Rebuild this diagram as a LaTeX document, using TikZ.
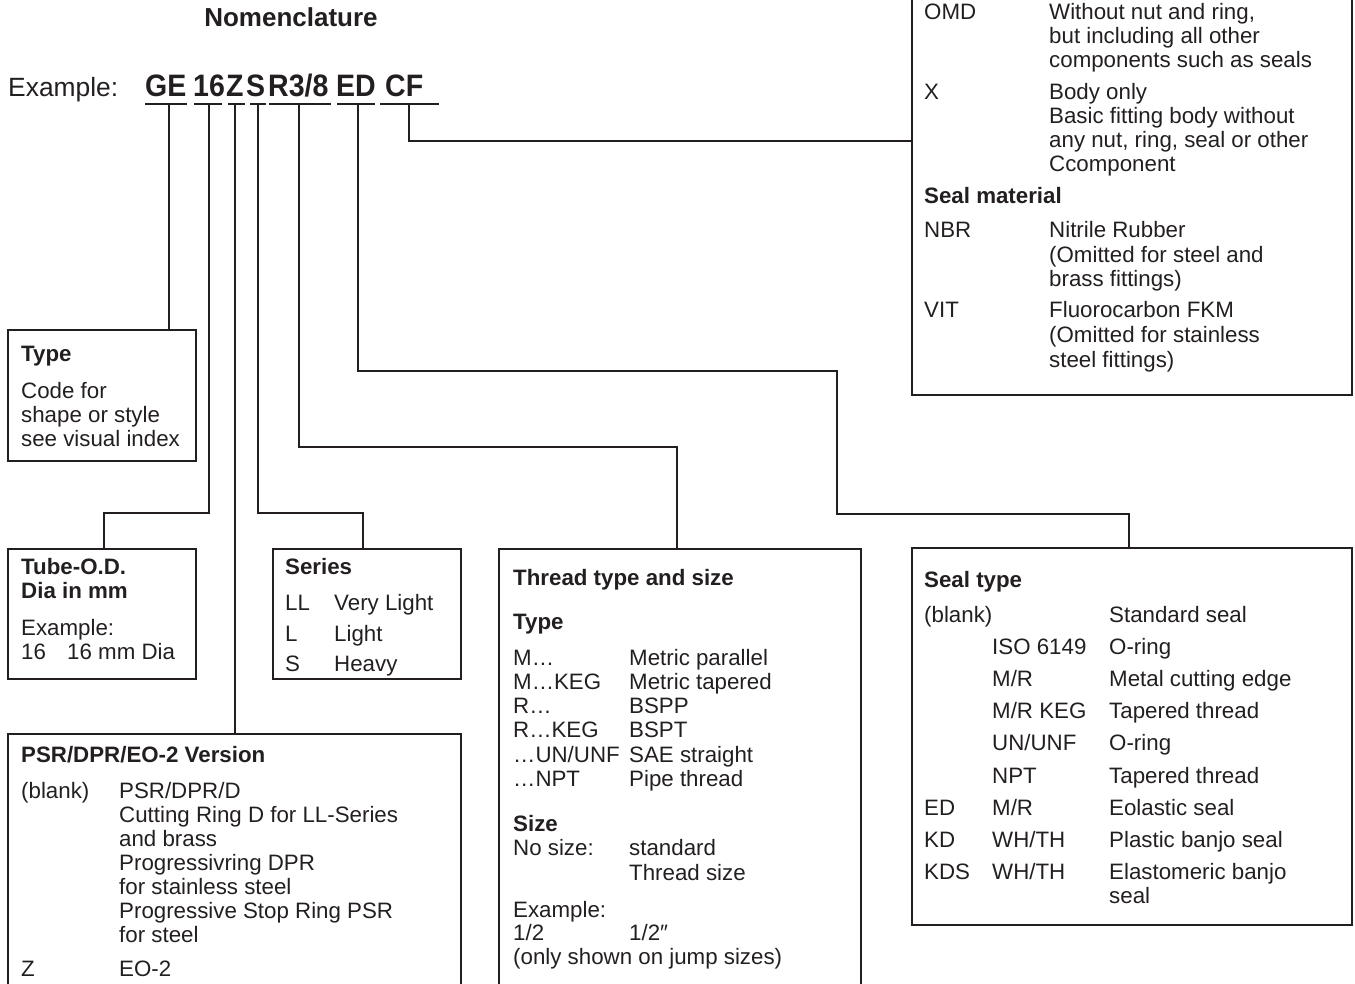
\documentclass[tikz,border=0pt]{standalone}
\usepackage{fontspec}
\setmainfont{Liberation Sans}
\newfontfamily\codefont[FakeStretch=0.92]{Liberation Sans}
\definecolor{ink}{RGB}{35,31,32}
\begin{document}
\begin{tikzpicture}[x=1pt,y=-1pt,
  box/.style={draw=ink, line width=1.3pt, anchor=north west, inner sep=0pt, outer sep=0pt},
  wire/.style={draw=ink, line width=1.2pt},
  txt/.style={anchor=base west, inner sep=0pt, text=ink, font=\fontsize{22.3}{24.3}\selectfont},
  hd/.style={txt, font=\fontsize{22.3}{24.3}\selectfont\bfseries},
  code/.style={anchor=base west, inner sep=0pt, text=ink, font=\codefont\fontsize{31}{32}\selectfont\bfseries}]
\useasboundingbox (0,0) rectangle (1355,984);
\clip (0,0) rectangle (1355,984);
% title
\node[anchor=base, inner sep=0pt, text=ink, font=\fontsize{26}{28}\selectfont\bfseries] (title) at (291,27) {Nomenclature};
\node[anchor=base west, inner sep=0pt, text=ink, font=\fontsize{26.4}{28}\selectfont] (ex) at (8,97) {Example:};
\node[code] (cGE) at (145,97) {GE};
\node[code] (c16) at (193,97) {16};
\node[code] (cZ) at (226,97) {Z};
\node[code] (cS) at (246,97) {S};
\node[code] (cR) at (268,97) {R3/8};
\node[code] (cED) at (336,97) {ED};
\node[code] (cCF) at (385,97) {CF};
% underlines
\draw[wire] (145,104) -- (187,104);
\draw[wire] (194,104) -- (222,104);
\draw[wire] (228,104) -- (245,104);
\draw[wire] (250,104) -- (266,104);
\draw[wire] (269,104) -- (331,104);
\draw[wire] (337,104) -- (375,104);
\draw[wire] (380,104) -- (439,104);
\coordinate (uGE) at (169,104);
\coordinate (u16) at (209,104);
\coordinate (uZ) at (235,104);
\coordinate (uS) at (258,104);
\coordinate (uR) at (299,104);
\coordinate (uED) at (358,104);
\coordinate (uCF) at (409,104);
% boxes
\node[box, minimum width=440pt, minimum height=415pt] (tr) at (912,-20) {};
\node[box, minimum width=188pt, minimum height=131pt] (typebox) at (8,330) {};
\node[box, minimum width=188pt, minimum height=130pt] (tubebox) at (8,549) {};
\node[box, minimum width=188pt, minimum height=130pt] (seriesbox) at (273,549) {};
\node[box, minimum width=453pt, minimum height=300pt] (psrbox) at (8,734) {};
\node[box, minimum width=362pt, minimum height=480pt] (threadbox) at (499,549) {};
\node[box, minimum width=440pt, minimum height=377pt] (sealbox) at (912,548) {};
% connectors
\draw[wire] (uGE) -- (uGE |- typebox.north);
\draw[wire] (u16) -- (209,513) -- (104,513) -- (104,549 |- tubebox.north);
\draw[wire] (uZ) -- (uZ |- psrbox.north);
\draw[wire] (uS) -- (258,513) -- (363,513) -- (363,549 |- seriesbox.north);
\draw[wire] (uR) -- (299,447) -- (677,447) -- (677,549 |- threadbox.north);
\draw[wire] (uED) -- (358,371) -- (837,371) -- (837,514) -- (1129,514) -- (1129,548 |- sealbox.north);
\draw[wire] (uCF) -- (409,141) -- (tr.west |- 409,141);
% top-right box text
\node[txt] (a1) at (924,20) {OMD};
\node[txt] (a2) at (1049,20) {Without nut and ring,};
\node[txt] (a3) at (1049,44) {but including all other};
\node[txt] (a4) at (1049,68) {components such as seals};
\node[txt] (a5) at (924,100) {X};
\node[txt] (a6) at (1049,100) {Body only};
\node[txt] (a7) at (1049,124) {Basic fitting body without};
\node[txt] (a8) at (1049,148) {any nut, ring, seal or other};
\node[txt] (a9) at (1049,172) {Ccomponent};
\node[hd] (a10) at (924,204) {Seal material};
\node[txt] (a11) at (924,238) {NBR};
\node[txt] (a12) at (1049,238) {Nitrile Rubber};
\node[txt] (a13) at (1049,263) {(Omitted for steel and};
\node[txt] (a14) at (1049,287) {brass fittings)};
\node[txt] (a15) at (924,318) {VIT};
\node[txt] (a16) at (1049,318) {Fluorocarbon FKM};
\node[txt] (a17) at (1049,343) {(Omitted for stainless};
\node[txt] (a18) at (1049,367) {steel fittings)};
% type box
\node[hd] (b1) at (21,362) {Type};
\node[txt] (b2) at (21,398) {Code for};
\node[txt] (b3) at (21,422) {shape or style};
\node[txt] (b4) at (21,446) {see visual index};
% tube box
\node[hd] (c1) at (21,574) {Tube-O.D.};
\node[hd] (c2) at (21,598) {Dia in mm};
\node[txt] (c3) at (21,635) {Example:};
\node[txt] (c4) at (21,659) {16};
\node[txt] (c5) at (67,659) {16 mm Dia};
% series box
\node[hd] (d1) at (285,574) {Series};
\node[txt] (d2) at (285,610) {LL};
\node[txt] (d3) at (334,610) {Very Light};
\node[txt] (d4) at (285,641) {L};
\node[txt] (d5) at (334,641) {Light};
\node[txt] (d6) at (285,671) {S};
\node[txt] (d7) at (334,671) {Heavy};
% psr box
\node[hd] (e1) at (21,762) {PSR/DPR/EO-2 Version};
\node[txt] (e2) at (21,798) {(blank)};
\node[txt] (e3) at (119,798) {PSR/DPR/D};
\node[txt] (e4) at (119,822) {Cutting Ring D for LL-Series};
\node[txt] (e5) at (119,846) {and brass};
\node[txt] (e6) at (119,870) {Progressivring DPR};
\node[txt] (e7) at (119,894) {for stainless steel};
\node[txt] (e8) at (119,918) {Progressive Stop Ring PSR};
\node[txt] (e9) at (119,942) {for steel};
\node[txt] (e10) at (21,976) {Z};
\node[txt] (e11) at (119,976) {EO-2};
% thread box
\node[hd] (f1) at (513,585) {Thread type and size};
\node[hd] (f2) at (513,629) {Type};
\node[txt] (f3) at (513,665) {M…};
\node[txt] (f4) at (629,665) {Metric parallel};
\node[txt] (f5) at (513,689) {M…KEG};
\node[txt] (f6) at (629,689) {Metric tapered};
\node[txt] (f7) at (513,713) {R…};
\node[txt] (f8) at (629,713) {BSPP};
\node[txt] (f9) at (513,737) {R…KEG};
\node[txt] (f10) at (629,737) {BSPT};
\node[txt] (f11) at (513,762) {…UN/UNF};
\node[txt] (f12) at (629,762) {SAE straight};
\node[txt] (f13) at (513,786) {…NPT};
\node[txt] (f14) at (629,786) {Pipe thread};
\node[hd] (f15) at (513,831) {Size};
\node[txt] (f16) at (513,855) {No size:};
\node[txt] (f17) at (629,855) {standard};
\node[txt] (f18) at (629,880) {Thread size};
\node[txt] (f19) at (513,917) {Example:};
\node[txt] (f20) at (513,940) {1/2};
\node[txt] (f21) at (629,940) {1/2″};
\node[txt] (f22) at (513,964) {(only shown on jump sizes)};
% seal box
\node[hd] (g1) at (924,587) {Seal type};
\node[txt] (g2) at (924,622) {(blank)};
\node[txt] (g3) at (1109,622) {Standard seal};
\node[txt] (g4) at (992,654) {ISO 6149};
\node[txt] (g5) at (1109,654) {O-ring};
\node[txt] (g6) at (992,686) {M/R};
\node[txt] (g7) at (1109,686) {Metal cutting edge};
\node[txt] (g8) at (992,718) {M/R KEG};
\node[txt] (g9) at (1109,718) {Tapered thread};
\node[txt] (g10) at (992,750) {UN/UNF};
\node[txt] (g11) at (1109,750) {O-ring};
\node[txt] (g12) at (992,783) {NPT};
\node[txt] (g13) at (1109,783) {Tapered thread};
\node[txt] (g14) at (924,815) {ED};
\node[txt] (g15) at (992,815) {M/R};
\node[txt] (g16) at (1109,815) {Eolastic seal};
\node[txt] (g17) at (924,847) {KD};
\node[txt] (g18) at (992,847) {WH/TH};
\node[txt] (g19) at (1109,847) {Plastic banjo seal};
\node[txt] (g20) at (924,879) {KDS};
\node[txt] (g21) at (992,879) {WH/TH};
\node[txt] (g22) at (1109,879) {Elastomeric banjo};
\node[txt] (g23) at (1109,903) {seal};
\end{tikzpicture}
\end{document}
